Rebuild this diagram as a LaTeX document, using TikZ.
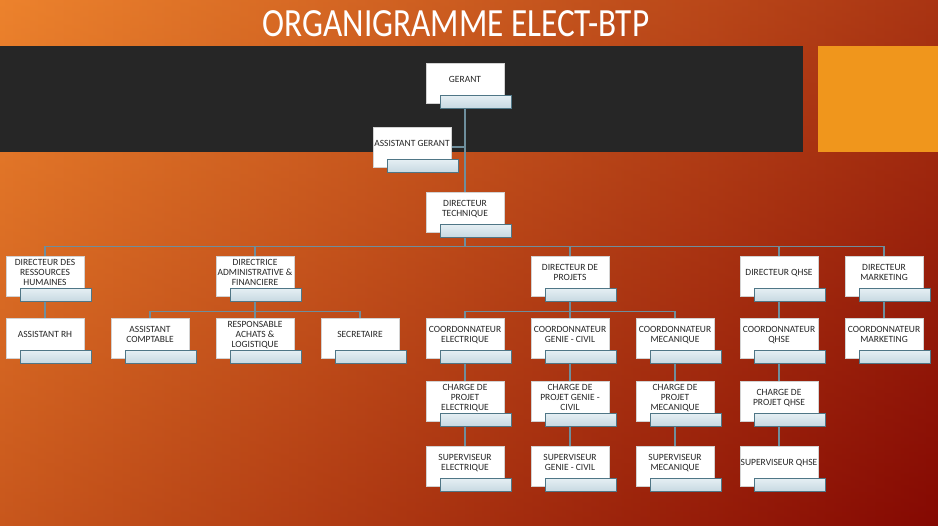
\documentclass[tikz,border=0pt]{standalone}
\usepackage{fontspec}
\setmainfont{Carlito}
\usetikzlibrary{positioning,calc,shadows}
\definecolor{cBgA}{HTML}{EA7A28}
\definecolor{cBgM}{HTML}{CC4814}
\definecolor{cBgB}{HTML}{8A0A03}
\definecolor{cBgT}{HTML}{F29638}
\definecolor{cBgD}{HTML}{7A0602}
\definecolor{cBand}{HTML}{262626}
\definecolor{cSide}{HTML}{F0961C}
\definecolor{cBarA}{HTML}{E4EEF3}
\definecolor{cBarB}{HTML}{C6D8E1}
\definecolor{cEdge}{HTML}{4F7686}
\definecolor{cLink}{HTML}{6E8E9C}
\definecolor{cText}{HTML}{262626}
\pgfdeclarelayer{back}
\pgfdeclarelayer{links}
\pgfsetlayers{back,links,main}
\tikzset{
  card/.style={draw=gray!35,line width=.8pt,fill=white,
              minimum width=78pt,minimum height=40pt,inner sep=0pt,
              text depth=8pt,align=center,text=cText,
              font=\fontsize{9.5}{10}\selectfont,
              drop shadow={opacity=.35,shadow xshift=1pt,shadow yshift=-1pt}},
  bar/.style={draw=cEdge,line width=.8pt,top color=cBarA,bottom color=cBarB,
              minimum width=71pt,minimum height=13pt,inner sep=0pt},
  link/.style={cLink,line width=1.3pt},
  title/.style={text=white,font=\fontsize{40}{40}\selectfont},
}

\begin{document}
\begin{tikzpicture}[x=1pt,y=-1pt]
  \useasboundingbox (0,0) rectangle (938,526);
  % slide background
  \begin{pgfonlayer}{back}
    \shade[left color=cBgA,middle color=cBgM,right color=cBgB]
      (0,0) rectangle (938,526);
    \shade[top color=cBgT,bottom color=cBgD,opacity=.3]
      (0,0) rectangle (938,526);
    \fill[cBand] (0,46) rectangle (803,152);
    \fill[cSide] (818,46) rectangle (938,152);
  \end{pgfonlayer}
  \node[title] (ttl) at (456,24) {\scalebox{.83}[1]{ORGANIGRAMME ELECT-BTP}};

  % cards, each with its bar
  \foreach \n/\x/\y/\t in {
      ger/465/83/GERANT,
      asg/412/147/ASSISTANT GERANT,
      dtech/465/212/{DIRECTEUR\\TECHNIQUE},
      drh/45/276/{DIRECTEUR DES\\RESSOURCES\\HUMAINES},
      daf/255/276/{DIRECTRICE\\ADMINISTRATIVE \&\\FINANCIERE},
      dproj/570/276/{DIRECTEUR DE\\PROJETS},
      dqhse/779/276/DIRECTEUR QHSE,
      dmkt/884/276/{DIRECTEUR\\MARKETING},
      arh/45/338/ASSISTANT RH,
      acpt/150/338/{ASSISTANT\\COMPTABLE},
      rach/255/338/{RESPONSABLE\\ACHATS \&\\LOGISTIQUE},
      secr/360/338/SECRETAIRE,
      celec/465/338/{COORDONNATEUR\\ELECTRIQUE},
      cgc/570/338/{COORDONNATEUR\\GENIE - CIVIL},
      cmeca/675/338/{COORDONNATEUR\\MECANIQUE},
      cqhse/779/338/{COORDONNATEUR\\QHSE},
      cmkt/884/338/{COORDONNATEUR\\MARKETING},
      pelec/465/401/{CHARGE DE\\PROJET\\ELECTRIQUE},
      pgc/570/401/{CHARGE DE\\PROJET GENIE -\\CIVIL},
      pmeca/675/401/{CHARGE DE\\PROJET\\MECANIQUE},
      pqhse/779/401/{CHARGE DE\\PROJET QHSE},
      selec/465/466/{SUPERVISEUR\\ELECTRIQUE},
      sgc/570/466/{SUPERVISEUR\\GENIE - CIVIL},
      smeca/675/466/{SUPERVISEUR\\MECANIQUE},
      sqhse/779/466/SUPERVISEUR QHSE}{
    \node[card] (\n) at (\x,\y) {\t};
    \node[bar,anchor=north west] (\n-bar)
      at ([xshift=14.5pt,yshift=8pt]\n.south west) {};
  }

  % connectors
  \begin{pgfonlayer}{links}
    \draw[link] (ger.south) -- (dtech.north);
    \draw[link] (asg.east) -- (asg.east -| ger.south);
    \foreach \c in {drh,daf,dproj,dqhse,dmkt}
      \draw[link] (dtech.south) -- ++(0,14) -| (\c.north);
    \foreach \c in {acpt,rach,secr}
      \draw[link] (daf.south) -- ++(0,15) -| (\c.north);
    \foreach \c in {celec,cgc,cmeca}
      \draw[link] (dproj.south) -- ++(0,15) -| (\c.north);
    \foreach \a/\b in {drh/arh,dqhse/cqhse,cqhse/pqhse,pqhse/sqhse,
        dmkt/cmkt,celec/pelec,pelec/selec,cgc/pgc,pgc/sgc,
        cmeca/pmeca,pmeca/smeca}
      \draw[link] (\a.south) -- (\b.north);
  \end{pgfonlayer}
\end{tikzpicture}
\end{document}
